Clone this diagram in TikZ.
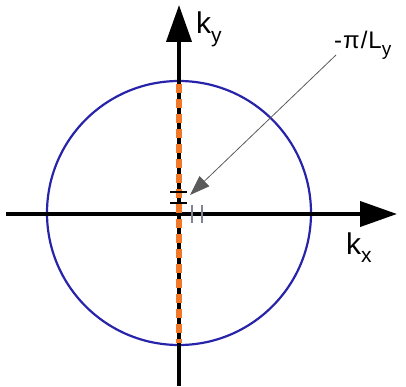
\documentclass[tikz,border=0pt]{standalone}
\usepackage{fontspec}
\setmainfont{Liberation Sans}
\usetikzlibrary{arrows.meta}
\definecolor{cblue}{RGB}{40,36,170}
\definecolor{corange}{RGB}{240,120,40}
\definecolor{tickgray}{RGB}{130,130,150}
\definecolor{pgray}{RGB}{90,90,90}
\tikzset{
  axis/.style={line width=4pt,-{Triangle[length=37pt,width=25pt]}},
  lbl/.style={inner sep=0pt,anchor=base west,font=\fontsize{30}{30}\selectfont},
  smalllbl/.style={inner sep=0pt,anchor=base west,font=\fontsize{24}{24}\selectfont},
  ktick/.style={line width=1.8pt,black},
  gtick/.style={line width=1.8pt,tickgray},
  pointer/.style={line width=0.8pt,pgray,-{Triangle[length=20pt,width=14pt]},shorten >=0pt}
}
\newcommand{\subs}[1]{\raisebox{-0.28em}{\fontsize{21}{21}\selectfont #1}}
\newcommand{\subsm}[1]{\raisebox{-0.28em}{\fontsize{19}{19}\selectfont #1}}
\begin{document}
\begin{tikzpicture}[x=1pt,y=-1pt]
\useasboundingbox (0,0) rectangle (406,387);
% axes
\coordinate (xs) at (6,214);
\coordinate (xe) at (397,214);
\coordinate (ys) at (179,386);
\coordinate (ye) at (179,5);
\coordinate (ctr) at (179,213);
% circle
\node[draw=cblue,line width=2.2pt,circle,minimum size=264pt,inner sep=0pt] (circ) at (ctr) {};
\draw[axis] (xs) -- (xe);
\draw[axis] (ys) -- (ye);
% orange dashed segment
\coordinate (ot) at (179,84);
\coordinate (ob) at (179,343);
\draw[corange,line width=5.5pt,dash pattern=on 9pt off 6pt] (ot) -- (ob);
% ticks
\coordinate (k1a) at (170,192); \coordinate (k1b) at (187,192);
\coordinate (k2a) at (170,203); \coordinate (k2b) at (187,203);
\draw[ktick] (k1a) -- (k1b);
\draw[ktick] (k2a) -- (k2b);
\coordinate (g1a) at (192,205); \coordinate (g1b) at (192,223);
\coordinate (g2a) at (202,205); \coordinate (g2b) at (202,223);
\draw[gtick] (g1a) -- (g1b);
\draw[gtick] (g2a) -- (g2b);
% labels
\node[lbl] (ky) at (196,34) {k\subs{y}};
\node[lbl] (kx) at (346,254) {k\subs{x}};
\node[smalllbl] (pl) at (334,49) {-\kern1ptπ\kern1pt/\kern1ptL\subsm{y}};
\coordinate (tip) at (190,195);
\coordinate (pstart) at (336,55);
\draw[pointer] (pstart) -- (tip);
\end{tikzpicture}
\end{document}
